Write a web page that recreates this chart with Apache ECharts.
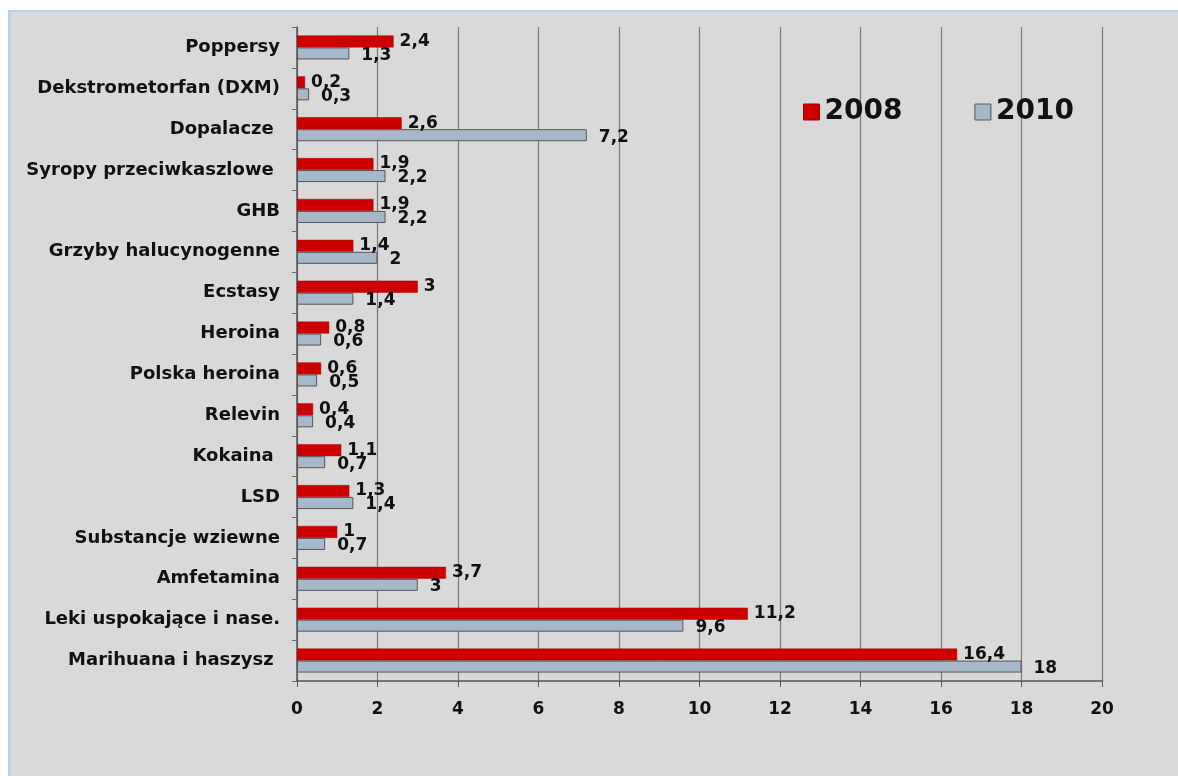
<!DOCTYPE html>
<html>
<head>
<meta charset="utf-8">
<script src="https://cdn.jsdelivr.net/npm/echarts@6/dist/echarts.min.js"></script>
<style>
html,body{margin:0;padding:0;background:#ffffff;}
#frame{position:absolute;left:8px;top:10px;width:1170px;height:766px;background:#d9d9d9;border-top:2px solid #b9cfe6;border-left:3px solid #b9cfe6;box-sizing:border-box;}
#main{position:absolute;left:0;top:0;width:1178px;height:776px;}
</style>
</head>
<body>
<div id="frame"></div>
<div id="main"></div>
<script>
const categories = ['Poppersy','Dekstrometorfan (DXM)','Dopalacze ','Syropy przeciwkaszlowe ','GHB','Grzyby halucynogenne','Ecstasy','Heroina','Polska heroina','Relevin','Kokaina ','LSD','Substancje wziewne','Amfetamina','Leki uspokające i nase.','Marihuana i haszysz '];
const values2008 = [2.4,0.2,2.6,1.9,1.9,1.4,3,0.8,0.6,0.4,1.1,1.3,1,3.7,11.2,16.4];
const values2010 = [1.3,0.3,7.2,2.2,2.2,2,1.4,0.6,0.5,0.4,0.7,1.4,0.7,3,9.6,18];
const xTicks = [0,2,4,6,8,10,12,14,16,18,20];

const fmt = p => String(p.value).replace('.', ',');
const FONT = 'DejaVu Sans';
const chart = echarts.init(document.getElementById('main'));
chart.setOption({
  backgroundColor: 'transparent',
  animation: false,
  textStyle: {fontFamily: FONT},
  legend: {
    left: 798, top: 93,
    itemWidth: 16, itemHeight: 16, itemGap: 72,
    textStyle: {fontSize: 28, fontWeight: 'bold', color: '#111', fontFamily: FONT},
    data: [
      {name: '2008', icon: 'rect', itemStyle: {color: '#cc0000', borderColor: '#990000', borderWidth: 1}},
      {name: '2010', icon: 'rect', itemStyle: {color: '#a8b8cb', borderColor: '#555', borderWidth: 1}}
    ]
  },
  grid: {left: 297, right: 76, top: 27, bottom: 95, containLabel: false},
  xAxis: {
    type: 'value', min: xTicks[0], max: xTicks[xTicks.length-1], interval: 2,
    axisLine: {show: true, lineStyle: {color: '#555', width: 1.5}},
    axisTick: {show: true, length: 6, lineStyle: {color: '#555'}},
    axisLabel: {fontSize: 17, fontWeight: 'bold', color: '#111', margin: 20, fontFamily: FONT},
    splitLine: {show: true, lineStyle: {color: '#7a7a7a', width: 1.2}}
  },
  yAxis: {
    type: 'category', data: categories, inverse: true,
    axisLine: {show: true, lineStyle: {color: '#555', width: 1.5}},
    axisTick: {show: true, length: 5, lineStyle: {color: '#666'}},
    axisLabel: {fontSize: 18, fontWeight: 'bold', color: '#111', margin: 17, fontFamily: FONT},
    splitLine: {show: false}
  },
  series: [
    {
      name: '2008', type: 'bar', data: values2008, barWidth: 12, barGap: '0%', barCategoryGap: '40%',
      itemStyle: {color: '#cc0000', borderColor: '#aa0000', borderWidth: 0.5},
      label: {show: true, position: 'right', distance: 6, offset: [0, 0], formatter: fmt,
        fontSize: 17, fontWeight: 'bold', color: '#111', fontFamily: FONT}
    },
    {
      name: '2010', type: 'bar', data: values2010, barWidth: 12, barGap: '0%',
      itemStyle: {color: '#a8b8cb', borderColor: '#555', borderWidth: 1},
      label: {show: true, position: 'right', distance: 12, offset: [0, 2], formatter: fmt,
        fontSize: 17, fontWeight: 'bold', color: '#111', fontFamily: FONT}
    }
  ]
});
</script>
</body>
</html>
